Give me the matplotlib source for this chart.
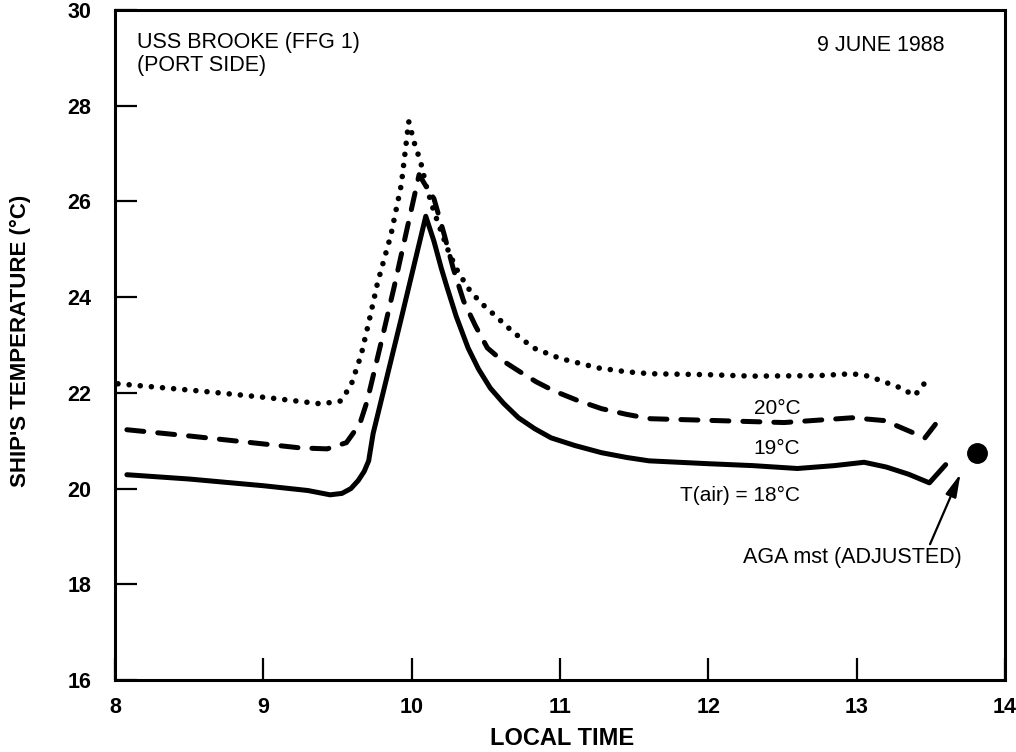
import matplotlib
matplotlib.use("Agg")
import matplotlib.pyplot as plt

plt.rcParams['font.family'] = ['Liberation Sans', 'DejaVu Sans']

# T(air) = 18 C  (solid)
t18 = [8.08, 8.5, 9.0, 9.3, 9.45, 9.53, 9.59, 9.64, 9.68, 9.71, 9.74, 9.93, 10.095,
       10.15, 10.2, 10.24, 10.3, 10.38, 10.45, 10.53, 10.62, 10.72, 10.83, 10.94,
       11.1, 11.28, 11.45, 11.6, 12.0, 12.3, 12.6, 12.85, 13.05, 13.2, 13.35,
       13.49, 13.6]
v18 = [20.29, 20.2, 20.06, 19.96, 19.87, 19.9, 20.0, 20.17, 20.36, 20.58, 21.15, 23.56, 25.69,
       25.17, 24.6, 24.19, 23.6, 22.94, 22.5, 22.1, 21.78, 21.48, 21.25, 21.06,
       20.9, 20.75, 20.65, 20.58, 20.52, 20.48, 20.42, 20.48, 20.55, 20.45, 20.3,
       20.12, 20.5]

# 19 C (dashed)
t19 = [8.08, 8.5, 8.8, 9.25, 9.43, 9.56, 9.65, 9.7, 9.79, 9.88, 10.05, 10.1, 10.15,
       10.22, 10.28, 10.35, 10.43, 10.51, 10.6, 10.72, 10.84, 10.96, 11.12, 11.28,
       11.45, 11.61, 12.07, 12.51, 12.97, 13.19, 13.46, 13.56]
v19 = [21.23, 21.1, 21.0, 20.85, 20.83, 20.96, 21.35, 21.83, 23.0, 24.19, 26.56, 26.3, 26.06,
       25.3, 24.6, 23.92, 23.4, 22.94, 22.7, 22.46, 22.23, 22.04, 21.84, 21.67,
       21.55, 21.46, 21.42, 21.38, 21.48, 21.42, 21.06, 21.46]

# 20 C (dotted)
t20 = [8.02, 8.57, 9.03, 9.39, 9.52, 9.59, 9.66, 9.72, 9.77, 9.86, 9.93, 9.98, 10.02,
       10.06, 10.1, 10.15, 10.24, 10.3, 10.38, 10.46, 10.55, 10.68, 10.82, 11.0,
       11.26, 11.45, 11.61, 12.0, 12.29, 12.74, 12.97, 13.08, 13.3, 13.39, 13.47]
v20 = [22.19, 22.04, 21.9, 21.77, 21.83, 22.15, 22.8, 23.6, 24.3, 25.3, 26.35, 27.67, 27.2,
       26.83, 26.3, 25.79, 25.02, 24.6, 24.19, 23.9, 23.65, 23.28, 22.94, 22.72,
       22.52, 22.44, 22.4, 22.38, 22.35, 22.36, 22.4, 22.35, 22.1, 21.94, 22.25]

# AGA measurement
aga_t = 13.81
aga_v = 20.75

xticks = [8, 9, 10, 11, 12, 13, 14]
yticks = [16, 18, 20, 22, 24, 26, 28, 30]

fig = plt.figure(figsize=(10.16, 7.52), dpi=100)
ax = fig.add_axes([0.1132, 0.0957, 0.876, 0.891])

ax.plot(t18, v18, color='black', lw=3.6, solid_capstyle='round', solid_joinstyle='round')
ax.plot(t19, v19, color='black', lw=3.6, linestyle=(0, (3.4, 2.8)), dash_capstyle='round')
ax.plot(t20, v20, color='black', lw=4.0, linestyle=(0, (0.01, 2.0)), dash_capstyle='round')
ax.plot([aga_t], [aga_v], 'o', color='black', markersize=14)

ax.set_xlim(8, 14)
ax.set_ylim(16, 30)
ax.set_xticks(xticks)
ax.set_yticks(yticks)
ax.tick_params(direction='in', length=16, width=1.6, top=False, right=False)
ax.tick_params(axis='y', pad=17)
ax.tick_params(axis='x', pad=12)
ax.set_xticklabels([str(v) for v in xticks], fontsize=15.5, fontweight='bold')
ax.set_yticklabels([str(v) for v in yticks], fontsize=15.5, fontweight='bold')
for s in ax.spines.values():
    s.set_linewidth(2.2)

ax.set_xlabel('LOCAL TIME', fontsize=17, fontweight='bold', va='top')
ax.xaxis.set_label_coords(0.502, -0.07)
ax.set_ylabel("SHIP'S TEMPERATURE (°C)", fontsize=16, fontweight='bold')
ax.yaxis.set_label_coords(-0.094, 0.506)

ax.text(8.15, 29.33, 'USS BROOKE (FFG 1)', fontsize=15.5, va='center', ha='left')
ax.text(8.15, 28.85, '(PORT SIDE)', fontsize=15.5, va='center', ha='left')
ax.text(13.59, 29.25, '9 JUNE 1988', fontsize=15.5, va='center', ha='right')

ax.text(12.62, 21.67, '20°C', fontsize=15, va='center', ha='right')
ax.text(12.62, 20.83, '19°C', fontsize=15, va='center', ha='right')
ax.text(12.62, 19.85, 'T(air) = 18°C', fontsize=15, va='center', ha='right')

ax.annotate('AGA mst (ADJUSTED)', xy=(13.70, 20.31), xytext=(12.97, 18.56),
            fontsize=15.5, ha='center', va='center',
            arrowprops=dict(arrowstyle='-|>,head_length=0.9,head_width=0.22',
                            color='black', lw=1.6, shrinkA=0, shrinkB=0,
                            relpos=(0.85, 1.0)))

fig.savefig('out.png', dpi=100)
